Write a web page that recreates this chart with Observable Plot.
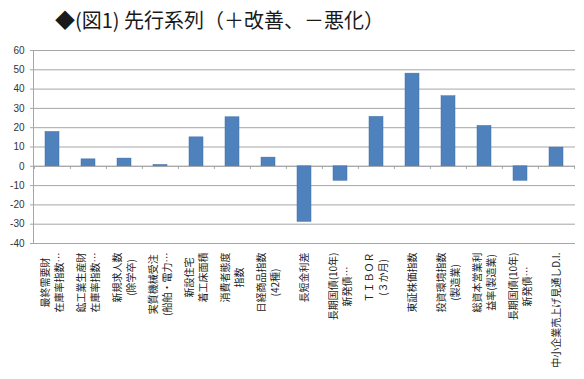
<!DOCTYPE html>
<html><head><meta charset="utf-8">
<script src="https://cdn.jsdelivr.net/npm/d3@7"></script>
<script src="https://cdn.jsdelivr.net/npm/@observablehq/plot@0.6"></script>
<style>
body{margin:0;background:#fff;}
#title{height:40px;font-family:"Noto Sans CJK JP";font-size:20px;line-height:40px;padding-left:55px;color:#1a1a1a;white-space:nowrap;}
</style></head><body>
<div id="title">◆(図1) 先行系列（＋改善、－悪化）</div>
<div id="chart"></div>
<script>
const labelLine1 = ["最終需要財","鉱工業生産財","新規求人数","実質機械受注","新設住宅","消費者態度","日経商品指数","長短金利差","長期国債(10年)","ＴＩＢＯＲ","東証株価指数","投資環境指数","総資本営業利","長期国債(10年)","中小企業売上げ見通しD.I."];
const labelLine2 = ["在庫率指数…","在庫率指数…","(除学卒)","(船舶・電力…","着工床面積","指数","(42種)","","新発債…","(３か月)","","(製造業)","益率(製造業)","新発債…",""];
const values = [17.8, 3.6, 4.0, 0.7, 15.0, 25.4, 4.5, -28.8, -7.5, 25.6, 48.0, 36.3, 20.9, -7.5, 9.7];
const yTicks = [-40,-30,-20,-10,0,10,20,30,40,50,60];

const idx = d3.range(values.length);
const data = idx.map(i => ({i, v: values[i], l1: labelLine1[i], l2: labelLine2[i]}));

const W = 584, H = 339, mL = 33, mR = 9, mT = 10, mB = 136;
const step = (W - mL - mR) / idx.length;
const fs = 10;
const fontFam = "Noto Sans CJK JP";
const ctx = document.createElement("canvas").getContext("2d");
ctx.font = `${fs}px "${fontFam}"`;
const textLen = s => ctx.measureText(s).width;

const labelMarks = [];
data.forEach(d => {
  const lines = d.l2 ? [d.l1, d.l2] : [d.l1];
  const block = Math.max(...lines.map(textLen));
  lines.forEach((s, k) => {
    const off = lines.length === 1 ? 0 : (k === 0 ? -7 : 7);
    labelMarks.push(Plot.text([d], {
      x: "i", text: () => s, frameAnchor: "bottom", rotate: -90,
      textAnchor: "middle", lineAnchor: "middle",
      dx: off, dy: 9 + block / 2, fontSize: fs, fill: "#222",
      fontFamily: fontFam
    }));
  });
});

const chart = Plot.plot({
  width: W, height: H, marginLeft: mL, marginRight: mR, marginTop: mT, marginBottom: mB,
  x: {type: "band", domain: idx, paddingInner: 0.6, paddingOuter: 0.3, axis: null},
  y: {domain: [-40, 60], ticks: yTicks, axis: null},
  style: {fontFamily: "Liberation Sans, Arial, sans-serif", background: "#fff"},
  marks: [
    Plot.gridY(yTicks, {stroke: "#a6a6a6", strokeOpacity: 1}),
    Plot.axisY(yTicks, {label: null, tickSize: 3, tickPadding: 6, fontSize: 10, color: "#333", stroke: "#a6a6a6", tickFormat: d => d}),
    Plot.ruleY([0], {stroke: "#a6a6a6"}),
    Plot.frame({anchor: "left", stroke: "#a6a6a6"}),
    Plot.ruleX(idx, {x: d => d, y1: 0, y2: -1.6, dx: -step / 2, stroke: "#a6a6a6"}),
    Plot.ruleX([idx[idx.length - 1]], {x: d => d, y1: 0, y2: -1.6, dx: step / 2, stroke: "#a6a6a6"}),
    Plot.barY(data, {x: "i", y: "v", fill: "#4f81bd", stroke: "#3f6fa8", strokeWidth: 0.5}),
    ...labelMarks
  ]
});
document.getElementById("chart").appendChild(chart);
</script>
</body></html>
